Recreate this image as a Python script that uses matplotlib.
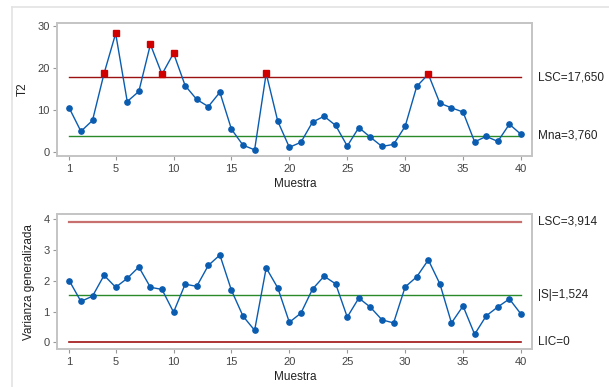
import matplotlib
matplotlib.use("Agg")
import matplotlib.pyplot as plt
from matplotlib.lines import Line2D

plt.rcParams['font.family'] = ['Liberation Sans', 'DejaVu Sans']

muestra = list(range(1, 41))
t2 = [10.3, 4.8, 7.4, 18.6, 28.1, 11.9, 14.3, 25.5, 18.4, 23.4,
      15.7, 12.4, 10.7, 14.1, 5.3, 1.5, 0.4, 18.6, 7.2, 1.0,
      2.2, 7.0, 8.4, 6.2, 1.3, 5.7, 3.4, 1.2, 1.7, 6.0,
      15.5, 18.4, 11.5, 10.4, 9.4, 2.3, 3.6, 2.4, 6.5, 4.1]
var_gen = [2.00, 1.33, 1.50, 2.18, 1.79, 2.08, 2.45, 1.79, 1.72, 0.98,
           1.89, 1.82, 2.50, 2.84, 1.69, 0.85, 0.39, 2.42, 1.77, 0.65,
           0.95, 1.73, 2.15, 1.90, 0.82, 1.44, 1.14, 0.73, 0.63, 1.80,
           2.13, 2.68, 1.90, 0.63, 1.18, 0.26, 0.86, 1.15, 1.41, 0.92]
t2_lsc, t2_mna = 17.650, 3.760
s_lsc, s_centro, s_lic = 3.914, 1.524, 0.0
xticks = [1, 5, 10, 15, 20, 25, 30, 35, 40]

W, H = 609, 387
fig = plt.figure(figsize=(W / 100, H / 100), dpi=100)

# light panel border (top and left edges)
fig.add_artist(Line2D([12 / W, 1], [1 - 7 / H, 1 - 7 / H], color='#e3e3e3', lw=1.2))
fig.add_artist(Line2D([12 / W, 12 / W], [0, 1 - 7 / H], color='#e3e3e3', lw=1.2))

blue = '#0a5cb0'
frame = '#c4c4c4'
tickc = '#444444'


def axes_px(l, t, r, b):
    return fig.add_axes([l / W, 1 - b / H, (r - l) / W, (b - t) / H])


def style(ax):
    for s in ax.spines.values():
        s.set_color(frame)
        s.set_linewidth(1.4)
    ax.tick_params(direction='out', length=3, width=0.8, color='#999999',
                   labelsize=8, labelcolor=tickc, pad=2.5)
    ax.set_xticks(xticks)
    ax.set_xlim(-0.04, 40.98)
    ax.set_xlabel('Muestra', fontsize=8.5, color='#222222', labelpad=3)


# T2 chart
ax1 = axes_px(57.3, 23, 532.3, 156)
style(ax1)
ax1.set_ylim(-1.07, 30.6)
ax1.set_yticks([0, 10, 20, 30])
ax1.set_ylabel('T2', fontsize=8.5, color='#222222', labelpad=6)
ax1.plot([1, 40], [t2_lsc, t2_lsc], color='#9b1010', lw=1.0)
ax1.plot([1, 40], [t2_mna, t2_mna], color='#2a8a2a', lw=1.0)
ax1.plot(muestra, t2, color=blue, lw=1.0, marker='o', ms=3.8,
         markerfacecolor=blue, markeredgecolor=blue, zorder=3)
fuera = [(x, y) for x, y in zip(muestra, t2) if y > t2_lsc]
ax1.plot([p[0] for p in fuera], [p[1] for p in fuera], ls='none', marker='s',
         ms=4.4, color='#d00000', zorder=4)
ax1.text(1.012, t2_lsc, 'LSC=17,650', transform=ax1.get_yaxis_transform(),
         va='center', ha='left', fontsize=8.5, color='#222222')
ax1.text(1.012, t2_mna, 'Mna=3,760', transform=ax1.get_yaxis_transform(),
         va='center', ha='left', fontsize=8.5, color='#222222')

# generalized variance chart
ax2 = axes_px(57.3, 214.3, 532.3, 349.3)
style(ax2)
ax2.set_ylim(-0.228, 4.164)
ax2.set_yticks([0, 1, 2, 3, 4])
ax2.set_ylabel('Varianza generalizada', fontsize=8.5, color='#222222', labelpad=6)
ax2.plot([1, 40], [s_lsc, s_lsc], color='#c87070', lw=1.6)
ax2.plot([1, 40], [s_centro, s_centro], color='#2a8a2a', lw=1.0)
ax2.plot([1, 40], [s_lic, s_lic], color='#a01010', lw=1.2)
ax2.plot(muestra, var_gen, color=blue, lw=1.0, marker='o', ms=3.8,
         markerfacecolor=blue, markeredgecolor=blue, zorder=3)
ax2.text(1.012, s_lsc, 'LSC=3,914', transform=ax2.get_yaxis_transform(),
         va='center', ha='left', fontsize=8.5, color='#222222')
ax2.text(1.012, s_centro, '|S|=1,524', transform=ax2.get_yaxis_transform(),
         va='center', ha='left', fontsize=8.5, color='#222222')
ax2.text(1.012, s_lic, 'LIC=0', transform=ax2.get_yaxis_transform(),
         va='center', ha='left', fontsize=8.5, color='#222222')

fig.savefig('out.png', dpi=100, facecolor='white')
